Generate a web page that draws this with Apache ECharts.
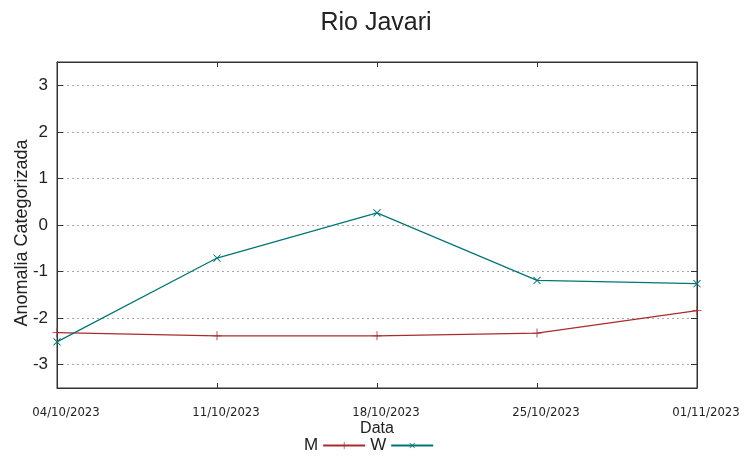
<!DOCTYPE html>
<html>
<head>
<meta charset="utf-8">
<script src="https://cdn.jsdelivr.net/npm/echarts@6/dist/echarts.min.js"></script>
<style>
html,body{margin:0;padding:0;background:#fff;}
#chart{width:752px;height:458px;}
</style>
</head>
<body>
<div id="chart"></div>
<script>
const categories = ['04/10/2023', '11/10/2023', '18/10/2023', '25/10/2023', '01/11/2023'];
const seriesM = [-2.31, -2.38, -2.38, -2.32, -1.84];
const seriesW = [-2.51, -0.71, 0.26, -1.19, -1.26];
const yTicks = [-3, -2, -1, 0, 1, 2, 3];

const plusPath = 'path://M0,4.55H10V5.45H0Z M4.55,0H5.45V10H4.55Z';
const colM = '#a82c2c';
const colW = '#007575';
const frame = '#333';

const chart = echarts.init(document.getElementById('chart'));
chart.setOption({
  animation: false,
  backgroundColor: '#fff',
  title: {
    text: 'Rio Javari',
    left: 'center',
    top: 6,
    textStyle: {fontFamily: 'Liberation Sans', fontSize: 25, fontWeight: 'normal', color: '#222'}
  },
  grid: {
    left: 57, right: 55, top: 62, bottom: 70,
    outerBoundsMode: 'none',
    containLabel: false,
    show: true, borderColor: frame, borderWidth: 1, backgroundColor: 'transparent'
  },
  legend: {
    left: 299, top: 432,
    align: 'right',
    itemGap: 4,
    itemWidth: 42, itemHeight: 9,
    textStyle: {fontFamily: 'Liberation Sans', fontSize: 17, color: '#222'},
    data: ['M', 'W']
  },
  xAxis: [{
    type: 'category',
    data: categories,
    boundaryGap: false,
    position: 'bottom',
    name: 'Data',
    nameLocation: 'middle',
    nameGap: 33,
    nameMoveOverlap: false,
    nameTextStyle: {fontFamily: 'Liberation Sans', fontSize: 16, color: '#222'},
    axisLine: {onZero: false, lineStyle: {color: frame}},
    axisTick: {show: true, inside: true, length: 5, alignWithLabel: true, lineStyle: {color: frame}},
    axisLabel: {fontFamily: 'Liberation Sans Narrow, DejaVu Sans Condensed, Liberation Sans', fontSize: 13, color: '#222', margin: 18, interval: 0, padding: [0, 0, 0, 18]},
    splitLine: {show: false}
  }, {
    type: 'category',
    data: categories,
    boundaryGap: false,
    position: 'top',
    axisLine: {onZero: false, lineStyle: {color: frame}},
    axisTick: {show: true, inside: true, length: 5, lineStyle: {color: frame}},
    axisLabel: {show: false},
    splitLine: {show: false}
  }],
  yAxis: [{
    type: 'value',
    min: -3.5, max: 3.5,
    interval: 1,
    position: 'left',
    name: 'Anomalia Categorizada',
    nameLocation: 'middle',
    nameGap: 26,
    nameMoveOverlap: false,
    nameTextStyle: {fontFamily: 'Liberation Sans', fontSize: 18, color: '#222', padding: [0, 16, 0, 0]},
    axisLine: {show: true, onZero: false, lineStyle: {color: frame}},
    axisTick: {show: true, inside: true, length: 6, lineStyle: {color: frame}, customValues: yTicks},
    axisLabel: {fontFamily: 'Liberation Sans', fontSize: 17, color: '#222', margin: 9, customValues: yTicks},
    splitLine: {show: true, lineStyle: {color: '#aaa', type: [2, 3], width: 1}}
  }, {
    type: 'value',
    min: -3.5, max: 3.5,
    interval: 1,
    position: 'right',
    axisLine: {show: true, onZero: false, lineStyle: {color: frame}},
    axisTick: {show: true, inside: true, length: 6, lineStyle: {color: frame}, customValues: yTicks},
    axisLabel: {show: false},
    splitLine: {show: false}
  }],
  series: [
    {
      name: 'M', type: 'line', data: seriesM,
      symbol: plusPath, symbolSize: 9,
      showAllSymbol: true,
      lineStyle: {color: colM, width: 1.2},
      itemStyle: {color: colM}
    },
    {
      name: 'W', type: 'line', data: seriesW,
      symbol: plusPath, symbolSize: 10, symbolRotate: 45,
      showAllSymbol: true,
      lineStyle: {color: colW, width: 1.2},
      itemStyle: {color: colW}
    }
  ]
});
</script>
</body>
</html>
